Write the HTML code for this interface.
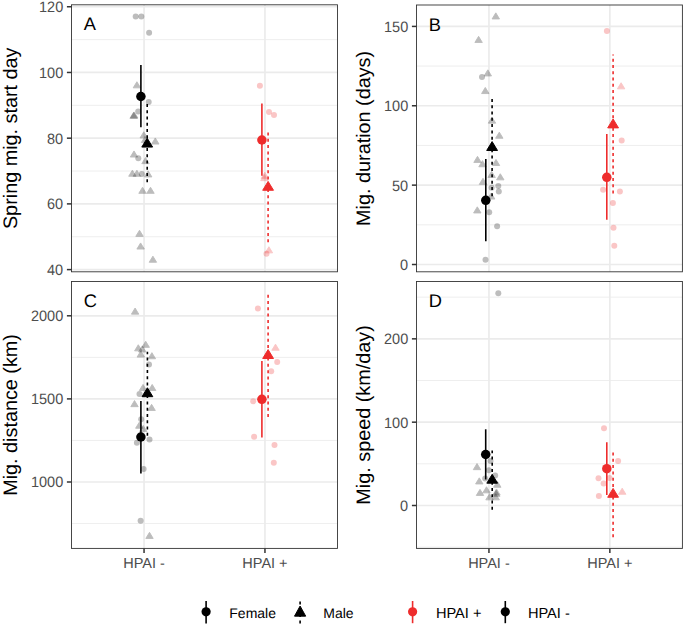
<!DOCTYPE html>
<html><head><meta charset="utf-8"><title>HPAI migration plots</title>
<style>html,body{margin:0;padding:0;background:#fff;}svg{display:block;}text{font-family:"Liberation Sans",sans-serif;text-rendering:geometricPrecision;}</style></head><body>
<svg width="685" height="626" viewBox="0 0 685 626">
<rect x="0" y="0" width="685" height="626" fill="#fff"/>
<g id="panelA">
<line x1="71.5" x2="337.5" y1="236.74" y2="236.74" stroke="#EBEBEB" stroke-width="0.85"/>
<line x1="71.5" x2="337.5" y1="171.03" y2="171.03" stroke="#EBEBEB" stroke-width="0.85"/>
<line x1="71.5" x2="337.5" y1="105.32" y2="105.32" stroke="#EBEBEB" stroke-width="0.85"/>
<line x1="71.5" x2="337.5" y1="39.61" y2="39.61" stroke="#EBEBEB" stroke-width="0.85"/>
<line x1="71.5" x2="337.5" y1="269.6" y2="269.6" stroke="#EBEBEB" stroke-width="1.7"/>
<line x1="71.5" x2="337.5" y1="203.89" y2="203.89" stroke="#EBEBEB" stroke-width="1.7"/>
<line x1="71.5" x2="337.5" y1="138.17" y2="138.17" stroke="#EBEBEB" stroke-width="1.7"/>
<line x1="71.5" x2="337.5" y1="72.46" y2="72.46" stroke="#EBEBEB" stroke-width="1.7"/>
<line x1="71.5" x2="337.5" y1="6.75" y2="6.75" stroke="#EBEBEB" stroke-width="1.7"/>
<line x1="144.05" x2="144.05" y1="4.8" y2="271.8" stroke="#EBEBEB" stroke-width="1.7"/>
<line x1="264.96" x2="264.96" y1="4.8" y2="271.8" stroke="#EBEBEB" stroke-width="1.7"/>
<circle cx="135.7" cy="16.6" r="3.0" fill="#000" fill-opacity="0.26"/>
<circle cx="141.3" cy="16.6" r="3.0" fill="#000" fill-opacity="0.26"/>
<circle cx="149.1" cy="32.8" r="3.0" fill="#000" fill-opacity="0.26"/>
<circle cx="148.7" cy="102.1" r="3.0" fill="#000" fill-opacity="0.26"/>
<circle cx="138.2" cy="111.4" r="3.0" fill="#000" fill-opacity="0.26"/>
<circle cx="138.3" cy="158.2" r="3.0" fill="#000" fill-opacity="0.26"/>
<circle cx="141.8" cy="174" r="3.0" fill="#000" fill-opacity="0.26"/>
<polygon points="136.9,81.75 140.6,87.85 133.2,87.85" fill="#000" stroke="#000" stroke-width="0.9" stroke-linejoin="round" opacity="0.26"/>
<polygon points="133.6,112.25 137.3,118.35 129.9,118.35" fill="#000" stroke="#000" stroke-width="0.9" stroke-linejoin="round" opacity="0.26"/>
<polygon points="134.2,111.95 137.9,118.05 130.5,118.05" fill="#000" stroke="#000" stroke-width="0.9" stroke-linejoin="round" opacity="0.26"/>
<polygon points="143.8,131.75 147.5,137.85 140.1,137.85" fill="#000" stroke="#000" stroke-width="0.9" stroke-linejoin="round" opacity="0.26"/>
<polygon points="155.3,137.95 159,144.05 151.6,144.05" fill="#000" stroke="#000" stroke-width="0.9" stroke-linejoin="round" opacity="0.26"/>
<polygon points="145,136.45 148.7,142.55 141.3,142.55" fill="#000" stroke="#000" stroke-width="0.9" stroke-linejoin="round" opacity="0.26"/>
<polygon points="134,150.95 137.7,157.05 130.3,157.05" fill="#000" stroke="#000" stroke-width="0.9" stroke-linejoin="round" opacity="0.26"/>
<polygon points="145.5,157.55 149.2,163.65 141.8,163.65" fill="#000" stroke="#000" stroke-width="0.9" stroke-linejoin="round" opacity="0.26"/>
<polygon points="132.4,170.15 136.1,176.25 128.7,176.25" fill="#000" stroke="#000" stroke-width="0.9" stroke-linejoin="round" opacity="0.26"/>
<polygon points="136.9,170.25 140.6,176.35 133.2,176.35" fill="#000" stroke="#000" stroke-width="0.9" stroke-linejoin="round" opacity="0.26"/>
<polygon points="148.2,170.85 151.9,176.95 144.5,176.95" fill="#000" stroke="#000" stroke-width="0.9" stroke-linejoin="round" opacity="0.26"/>
<polygon points="142.5,187.25 146.2,193.35 138.8,193.35" fill="#000" stroke="#000" stroke-width="0.9" stroke-linejoin="round" opacity="0.26"/>
<polygon points="150.5,187.25 154.2,193.35 146.8,193.35" fill="#000" stroke="#000" stroke-width="0.9" stroke-linejoin="round" opacity="0.26"/>
<polygon points="139.5,230.25 143.2,236.35 135.8,236.35" fill="#000" stroke="#000" stroke-width="0.9" stroke-linejoin="round" opacity="0.26"/>
<polygon points="140.6,242.95 144.3,249.05 136.9,249.05" fill="#000" stroke="#000" stroke-width="0.9" stroke-linejoin="round" opacity="0.26"/>
<polygon points="152.9,256.15 156.6,262.25 149.2,262.25" fill="#000" stroke="#000" stroke-width="0.9" stroke-linejoin="round" opacity="0.26"/>
<circle cx="259.9" cy="85.8" r="3.0" fill="#EE2C2C" fill-opacity="0.27"/>
<circle cx="269" cy="111.9" r="3.0" fill="#EE2C2C" fill-opacity="0.27"/>
<circle cx="274" cy="115.1" r="3.0" fill="#EE2C2C" fill-opacity="0.27"/>
<circle cx="266.5" cy="253.7" r="3.0" fill="#EE2C2C" fill-opacity="0.27"/>
<polygon points="264.8,172.25 268.5,178.35 261.1,178.35" fill="#EE2C2C" stroke="#EE2C2C" stroke-width="0.9" stroke-linejoin="round" opacity="0.27"/>
<polygon points="264.4,174.55 268.1,180.65 260.7,180.65" fill="#EE2C2C" stroke="#EE2C2C" stroke-width="0.9" stroke-linejoin="round" opacity="0.27"/>
<polygon points="268.9,246.75 272.6,252.85 265.2,252.85" fill="#EE2C2C" stroke="#EE2C2C" stroke-width="0.9" stroke-linejoin="round" opacity="0.27"/>
<line x1="140.9" x2="140.9" y1="127.2" y2="65.1" stroke="#000" stroke-width="1.6"/>
<circle cx="140.9" cy="96.5" r="4.75" fill="#000"/>
<line x1="147.2" x2="147.2" y1="182.3" y2="104.1" stroke="#000" stroke-width="1.6" stroke-dasharray="3.0 3.28"/>
<polygon points="147.2,138.18 152.6,147.07 141.8,147.07" fill="#000" stroke="#000" stroke-width="1.0" stroke-linejoin="round"/>
<line x1="261.9" x2="261.9" y1="175.8" y2="103.6" stroke="#EE2C2C" stroke-width="1.6"/>
<circle cx="261.9" cy="140" r="4.75" fill="#EE2C2C"/>
<line x1="268.1" x2="268.1" y1="242.3" y2="131.9" stroke="#EE2C2C" stroke-width="1.6" stroke-dasharray="3.0 3.28"/>
<polygon points="268.1,181.38 273.5,190.27 262.7,190.27" fill="#EE2C2C" stroke="#EE2C2C" stroke-width="1.0" stroke-linejoin="round"/>
<rect x="71.5" y="4.8" width="266" height="267" fill="none" stroke="#333" stroke-width="0.9"/>
<line x1="66.9" x2="71.5" y1="269.6" y2="269.6" stroke="#333" stroke-width="1.5"/>
<text transform="translate(63.2,275) scale(1,1.04)" text-anchor="end" font-size="14.5" fill="#4D4D4D">40</text>
<line x1="66.9" x2="71.5" y1="203.89" y2="203.89" stroke="#333" stroke-width="1.5"/>
<text transform="translate(63.2,209.29) scale(1,1.04)" text-anchor="end" font-size="14.5" fill="#4D4D4D">60</text>
<line x1="66.9" x2="71.5" y1="138.17" y2="138.17" stroke="#333" stroke-width="1.5"/>
<text transform="translate(63.2,143.57) scale(1,1.04)" text-anchor="end" font-size="14.5" fill="#4D4D4D">80</text>
<line x1="66.9" x2="71.5" y1="72.46" y2="72.46" stroke="#333" stroke-width="1.5"/>
<text transform="translate(63.2,77.86) scale(1,1.04)" text-anchor="end" font-size="14.5" fill="#4D4D4D">100</text>
<line x1="66.9" x2="71.5" y1="6.75" y2="6.75" stroke="#333" stroke-width="1.5"/>
<text transform="translate(63.2,12.15) scale(1,1.04)" text-anchor="end" font-size="14.5" fill="#4D4D4D">120</text>
<text transform="translate(17.4,138.3) rotate(-90) scale(1.0154,1)" x="0" y="0" text-anchor="middle" font-size="19.5" fill="#000">Spring mig. start day</text>
<text x="83.8" y="30.45" font-size="18.3" fill="#000">A</text>
</g>
<g id="panelB">
<line x1="416.5" x2="682.4" y1="224.82" y2="224.82" stroke="#EBEBEB" stroke-width="0.85"/>
<line x1="416.5" x2="682.4" y1="145.45" y2="145.45" stroke="#EBEBEB" stroke-width="0.85"/>
<line x1="416.5" x2="682.4" y1="66.09" y2="66.09" stroke="#EBEBEB" stroke-width="0.85"/>
<line x1="416.5" x2="682.4" y1="264.5" y2="264.5" stroke="#EBEBEB" stroke-width="1.7"/>
<line x1="416.5" x2="682.4" y1="185.13" y2="185.13" stroke="#EBEBEB" stroke-width="1.7"/>
<line x1="416.5" x2="682.4" y1="105.77" y2="105.77" stroke="#EBEBEB" stroke-width="1.7"/>
<line x1="416.5" x2="682.4" y1="26.41" y2="26.41" stroke="#EBEBEB" stroke-width="1.7"/>
<line x1="488.95" x2="488.95" y1="5" y2="271.8" stroke="#EBEBEB" stroke-width="1.7"/>
<line x1="609.85" x2="609.85" y1="5" y2="271.8" stroke="#EBEBEB" stroke-width="1.7"/>
<circle cx="482" cy="77.1" r="3.0" fill="#000" fill-opacity="0.26"/>
<circle cx="491.6" cy="187.8" r="3.0" fill="#000" fill-opacity="0.26"/>
<circle cx="498.3" cy="186.1" r="3.0" fill="#000" fill-opacity="0.26"/>
<circle cx="498.8" cy="191.6" r="3.0" fill="#000" fill-opacity="0.26"/>
<circle cx="489.2" cy="212.3" r="3.0" fill="#000" fill-opacity="0.26"/>
<circle cx="497.1" cy="226.3" r="3.0" fill="#000" fill-opacity="0.26"/>
<circle cx="485.5" cy="259.8" r="3.0" fill="#000" fill-opacity="0.26"/>
<polygon points="495.8,12.85 499.5,18.95 492.1,18.95" fill="#000" stroke="#000" stroke-width="0.9" stroke-linejoin="round" opacity="0.26"/>
<polygon points="478.6,36.35 482.3,42.45 474.9,42.45" fill="#000" stroke="#000" stroke-width="0.9" stroke-linejoin="round" opacity="0.26"/>
<polygon points="487.8,69.85 491.5,75.95 484.1,75.95" fill="#000" stroke="#000" stroke-width="0.9" stroke-linejoin="round" opacity="0.26"/>
<polygon points="485.3,87.45 489,93.55 481.6,93.55" fill="#000" stroke="#000" stroke-width="0.9" stroke-linejoin="round" opacity="0.26"/>
<polygon points="492,117.05 495.7,123.15 488.3,123.15" fill="#000" stroke="#000" stroke-width="0.9" stroke-linejoin="round" opacity="0.26"/>
<polygon points="499.3,132.15 503,138.25 495.6,138.25" fill="#000" stroke="#000" stroke-width="0.9" stroke-linejoin="round" opacity="0.26"/>
<polygon points="477.5,156.35 481.2,162.45 473.8,162.45" fill="#000" stroke="#000" stroke-width="0.9" stroke-linejoin="round" opacity="0.26"/>
<polygon points="482.5,160.65 486.2,166.75 478.8,166.75" fill="#000" stroke="#000" stroke-width="0.9" stroke-linejoin="round" opacity="0.26"/>
<polygon points="496,159.45 499.7,165.55 492.3,165.55" fill="#000" stroke="#000" stroke-width="0.9" stroke-linejoin="round" opacity="0.26"/>
<polygon points="491.6,171.35 495.3,177.45 487.9,177.45" fill="#000" stroke="#000" stroke-width="0.9" stroke-linejoin="round" opacity="0.26"/>
<polygon points="500.3,173.75 504,179.85 496.6,179.85" fill="#000" stroke="#000" stroke-width="0.9" stroke-linejoin="round" opacity="0.26"/>
<polygon points="483,178.25 486.7,184.35 479.3,184.35" fill="#000" stroke="#000" stroke-width="0.9" stroke-linejoin="round" opacity="0.26"/>
<polygon points="491.2,192.95 494.9,199.05 487.5,199.05" fill="#000" stroke="#000" stroke-width="0.9" stroke-linejoin="round" opacity="0.26"/>
<polygon points="477.3,206.85 481,212.95 473.6,212.95" fill="#000" stroke="#000" stroke-width="0.9" stroke-linejoin="round" opacity="0.26"/>
<circle cx="606.9" cy="31.1" r="3.0" fill="#EE2C2C" fill-opacity="0.27"/>
<circle cx="621.7" cy="140.6" r="3.0" fill="#EE2C2C" fill-opacity="0.27"/>
<circle cx="603.1" cy="189.8" r="3.0" fill="#EE2C2C" fill-opacity="0.27"/>
<circle cx="619.9" cy="191.4" r="3.0" fill="#EE2C2C" fill-opacity="0.27"/>
<circle cx="612.9" cy="202.9" r="3.0" fill="#EE2C2C" fill-opacity="0.27"/>
<circle cx="613.5" cy="227.8" r="3.0" fill="#EE2C2C" fill-opacity="0.27"/>
<circle cx="614.3" cy="245.7" r="3.0" fill="#EE2C2C" fill-opacity="0.27"/>
<polygon points="621.1,82.75 624.8,88.85 617.4,88.85" fill="#EE2C2C" stroke="#EE2C2C" stroke-width="0.9" stroke-linejoin="round" opacity="0.27"/>
<line x1="485.8" x2="485.8" y1="241.2" y2="159.1" stroke="#000" stroke-width="1.6"/>
<circle cx="485.8" cy="200.3" r="4.75" fill="#000"/>
<line x1="492.1" x2="492.1" y1="196.2" y2="98.4" stroke="#000" stroke-width="1.6" stroke-dasharray="3.0 3.28"/>
<polygon points="492.1,141.58 497.5,150.47 486.7,150.47" fill="#000" stroke="#000" stroke-width="1.0" stroke-linejoin="round"/>
<line x1="606.8" x2="606.8" y1="219.7" y2="134.1" stroke="#EE2C2C" stroke-width="1.6"/>
<circle cx="606.8" cy="177.3" r="4.75" fill="#EE2C2C"/>
<line x1="613.1" x2="613.1" y1="193.6" y2="54.5" stroke="#EE2C2C" stroke-width="1.6" stroke-dasharray="3.0 3.28"/>
<polygon points="613.1,118.97 618.5,127.88 607.7,127.88" fill="#EE2C2C" stroke="#EE2C2C" stroke-width="1.0" stroke-linejoin="round"/>
<rect x="416.5" y="5" width="265.9" height="266.8" fill="none" stroke="#333" stroke-width="0.9"/>
<line x1="411.9" x2="416.5" y1="264.5" y2="264.5" stroke="#333" stroke-width="1.5"/>
<text transform="translate(408.2,269.9) scale(1,1.04)" text-anchor="end" font-size="14.5" fill="#4D4D4D">0</text>
<line x1="411.9" x2="416.5" y1="185.13" y2="185.13" stroke="#333" stroke-width="1.5"/>
<text transform="translate(408.2,190.53) scale(1,1.04)" text-anchor="end" font-size="14.5" fill="#4D4D4D">50</text>
<line x1="411.9" x2="416.5" y1="105.77" y2="105.77" stroke="#333" stroke-width="1.5"/>
<text transform="translate(408.2,111.17) scale(1,1.04)" text-anchor="end" font-size="14.5" fill="#4D4D4D">100</text>
<line x1="411.9" x2="416.5" y1="26.41" y2="26.41" stroke="#333" stroke-width="1.5"/>
<text transform="translate(408.2,31.8) scale(1,1.04)" text-anchor="end" font-size="14.5" fill="#4D4D4D">150</text>
<text transform="translate(370.3,138.4) rotate(-90) scale(1.0154,1)" x="0" y="0" text-anchor="middle" font-size="19.5" fill="#000">Mig. duration (days)</text>
<text x="428.8" y="30.65" font-size="18.3" fill="#000">B</text>
</g>
<g id="panelC">
<line x1="71.5" x2="337.5" y1="523.55" y2="523.55" stroke="#EBEBEB" stroke-width="0.85"/>
<line x1="71.5" x2="337.5" y1="440.45" y2="440.45" stroke="#EBEBEB" stroke-width="0.85"/>
<line x1="71.5" x2="337.5" y1="357.35" y2="357.35" stroke="#EBEBEB" stroke-width="0.85"/>
<line x1="71.5" x2="337.5" y1="482" y2="482" stroke="#EBEBEB" stroke-width="1.7"/>
<line x1="71.5" x2="337.5" y1="398.9" y2="398.9" stroke="#EBEBEB" stroke-width="1.7"/>
<line x1="71.5" x2="337.5" y1="315.8" y2="315.8" stroke="#EBEBEB" stroke-width="1.7"/>
<line x1="144.05" x2="144.05" y1="281.5" y2="548.4" stroke="#EBEBEB" stroke-width="1.7"/>
<line x1="264.96" x2="264.96" y1="281.5" y2="548.4" stroke="#EBEBEB" stroke-width="1.7"/>
<circle cx="149" cy="364.4" r="3.0" fill="#000" fill-opacity="0.26"/>
<circle cx="139.5" cy="394" r="3.0" fill="#000" fill-opacity="0.26"/>
<circle cx="141.2" cy="419.3" r="3.0" fill="#000" fill-opacity="0.26"/>
<circle cx="149.5" cy="439.4" r="3.0" fill="#000" fill-opacity="0.26"/>
<circle cx="136.9" cy="442.7" r="3.0" fill="#000" fill-opacity="0.26"/>
<circle cx="143.6" cy="469.1" r="3.0" fill="#000" fill-opacity="0.26"/>
<circle cx="140.6" cy="520.7" r="3.0" fill="#000" fill-opacity="0.26"/>
<polygon points="135.1,308.05 138.8,314.15 131.4,314.15" fill="#000" stroke="#000" stroke-width="0.9" stroke-linejoin="round" opacity="0.26"/>
<polygon points="145.7,341.25 149.4,347.35 142,347.35" fill="#000" stroke="#000" stroke-width="0.9" stroke-linejoin="round" opacity="0.26"/>
<polygon points="138.3,344.75 142,350.85 134.6,350.85" fill="#000" stroke="#000" stroke-width="0.9" stroke-linejoin="round" opacity="0.26"/>
<polygon points="142.3,345.85 146,351.95 138.6,351.95" fill="#000" stroke="#000" stroke-width="0.9" stroke-linejoin="round" opacity="0.26"/>
<polygon points="140.8,350.95 144.5,357.05 137.1,357.05" fill="#000" stroke="#000" stroke-width="0.9" stroke-linejoin="round" opacity="0.26"/>
<polygon points="151.9,352.65 155.6,358.75 148.2,358.75" fill="#000" stroke="#000" stroke-width="0.9" stroke-linejoin="round" opacity="0.26"/>
<polygon points="143,384.45 146.7,390.55 139.3,390.55" fill="#000" stroke="#000" stroke-width="0.9" stroke-linejoin="round" opacity="0.26"/>
<polygon points="152.2,384.45 155.9,390.55 148.5,390.55" fill="#000" stroke="#000" stroke-width="0.9" stroke-linejoin="round" opacity="0.26"/>
<polygon points="134.5,400.55 138.2,406.65 130.8,406.65" fill="#000" stroke="#000" stroke-width="0.9" stroke-linejoin="round" opacity="0.26"/>
<polygon points="151.6,404.35 155.3,410.45 147.9,410.45" fill="#000" stroke="#000" stroke-width="0.9" stroke-linejoin="round" opacity="0.26"/>
<polygon points="139.3,422.15 143,428.25 135.6,428.25" fill="#000" stroke="#000" stroke-width="0.9" stroke-linejoin="round" opacity="0.26"/>
<polygon points="143.2,425.45 146.9,431.55 139.5,431.55" fill="#000" stroke="#000" stroke-width="0.9" stroke-linejoin="round" opacity="0.26"/>
<polygon points="149.5,532.35 153.2,538.45 145.8,538.45" fill="#000" stroke="#000" stroke-width="0.9" stroke-linejoin="round" opacity="0.26"/>
<circle cx="257.9" cy="308.5" r="3.0" fill="#EE2C2C" fill-opacity="0.27"/>
<circle cx="277.2" cy="362" r="3.0" fill="#EE2C2C" fill-opacity="0.27"/>
<circle cx="271.2" cy="371.2" r="3.0" fill="#EE2C2C" fill-opacity="0.27"/>
<circle cx="253.2" cy="401.3" r="3.0" fill="#EE2C2C" fill-opacity="0.27"/>
<circle cx="254.1" cy="436.7" r="3.0" fill="#EE2C2C" fill-opacity="0.27"/>
<circle cx="274.5" cy="445.1" r="3.0" fill="#EE2C2C" fill-opacity="0.27"/>
<circle cx="273.8" cy="462.8" r="3.0" fill="#EE2C2C" fill-opacity="0.27"/>
<polygon points="275.5,344.15 279.2,350.25 271.8,350.25" fill="#EE2C2C" stroke="#EE2C2C" stroke-width="0.9" stroke-linejoin="round" opacity="0.27"/>
<line x1="140.9" x2="140.9" y1="473.6" y2="401" stroke="#000" stroke-width="1.6"/>
<circle cx="140.9" cy="437" r="4.75" fill="#000"/>
<line x1="147.4" x2="147.4" y1="435.8" y2="351.8" stroke="#000" stroke-width="1.6" stroke-dasharray="3.0 3.28"/>
<polygon points="147.4,387.78 152.8,396.68 142,396.68" fill="#000" stroke="#000" stroke-width="1.0" stroke-linejoin="round"/>
<line x1="261.9" x2="261.9" y1="437.5" y2="360.9" stroke="#EE2C2C" stroke-width="1.6"/>
<circle cx="261.9" cy="399.3" r="4.75" fill="#EE2C2C"/>
<line x1="268.1" x2="268.1" y1="417.1" y2="294.1" stroke="#EE2C2C" stroke-width="1.6" stroke-dasharray="3.0 3.28"/>
<polygon points="268.1,349.58 273.5,358.48 262.7,358.48" fill="#EE2C2C" stroke="#EE2C2C" stroke-width="1.0" stroke-linejoin="round"/>
<rect x="71.5" y="281.5" width="266" height="266.9" fill="none" stroke="#333" stroke-width="0.9"/>
<line x1="66.9" x2="71.5" y1="482" y2="482" stroke="#333" stroke-width="1.5"/>
<text transform="translate(63.2,487.4) scale(1,1.04)" text-anchor="end" font-size="14.5" fill="#4D4D4D">1000</text>
<line x1="66.9" x2="71.5" y1="398.9" y2="398.9" stroke="#333" stroke-width="1.5"/>
<text transform="translate(63.2,404.3) scale(1,1.04)" text-anchor="end" font-size="14.5" fill="#4D4D4D">1500</text>
<line x1="66.9" x2="71.5" y1="315.8" y2="315.8" stroke="#333" stroke-width="1.5"/>
<text transform="translate(63.2,321.2) scale(1,1.04)" text-anchor="end" font-size="14.5" fill="#4D4D4D">2000</text>
<line x1="144.05" x2="144.05" y1="548.4" y2="553" stroke="#333" stroke-width="1.5"/>
<text x="144.05" y="568.4" text-anchor="middle" font-size="14.5" fill="#4D4D4D">HPAI -</text>
<line x1="264.96" x2="264.96" y1="548.4" y2="553" stroke="#333" stroke-width="1.5"/>
<text x="264.96" y="568.4" text-anchor="middle" font-size="14.5" fill="#4D4D4D">HPAI +</text>
<text transform="translate(17.4,414.95) rotate(-90) scale(1.0154,1)" x="0" y="0" text-anchor="middle" font-size="19.5" fill="#000">Mig. distance (km)</text>
<text x="83.8" y="307.15" font-size="18.3" fill="#000">C</text>
</g>
<g id="panelD">
<line x1="416.5" x2="682.4" y1="547.16" y2="547.16" stroke="#EBEBEB" stroke-width="0.85"/>
<line x1="416.5" x2="682.4" y1="463.83" y2="463.83" stroke="#EBEBEB" stroke-width="0.85"/>
<line x1="416.5" x2="682.4" y1="380.5" y2="380.5" stroke="#EBEBEB" stroke-width="0.85"/>
<line x1="416.5" x2="682.4" y1="297.17" y2="297.17" stroke="#EBEBEB" stroke-width="0.85"/>
<line x1="416.5" x2="682.4" y1="505.5" y2="505.5" stroke="#EBEBEB" stroke-width="1.7"/>
<line x1="416.5" x2="682.4" y1="422.17" y2="422.17" stroke="#EBEBEB" stroke-width="1.7"/>
<line x1="416.5" x2="682.4" y1="338.84" y2="338.84" stroke="#EBEBEB" stroke-width="1.7"/>
<line x1="488.95" x2="488.95" y1="281.5" y2="548.4" stroke="#EBEBEB" stroke-width="1.7"/>
<line x1="609.85" x2="609.85" y1="281.5" y2="548.4" stroke="#EBEBEB" stroke-width="1.7"/>
<circle cx="498.3" cy="293.2" r="3.0" fill="#000" fill-opacity="0.26"/>
<circle cx="490.5" cy="461" r="3.0" fill="#000" fill-opacity="0.26"/>
<circle cx="488.9" cy="470.3" r="3.0" fill="#000" fill-opacity="0.26"/>
<circle cx="495.2" cy="475.6" r="3.0" fill="#000" fill-opacity="0.26"/>
<circle cx="485.2" cy="478.4" r="3.0" fill="#000" fill-opacity="0.26"/>
<polygon points="477,463.55 480.7,469.65 473.3,469.65" fill="#000" stroke="#000" stroke-width="0.9" stroke-linejoin="round" opacity="0.26"/>
<polygon points="479.3,477.85 483,483.95 475.6,483.95" fill="#000" stroke="#000" stroke-width="0.9" stroke-linejoin="round" opacity="0.26"/>
<polygon points="480,489.35 483.7,495.45 476.3,495.45" fill="#000" stroke="#000" stroke-width="0.9" stroke-linejoin="round" opacity="0.26"/>
<polygon points="486.5,486.75 490.2,492.85 482.8,492.85" fill="#000" stroke="#000" stroke-width="0.9" stroke-linejoin="round" opacity="0.26"/>
<polygon points="497.3,481.15 501,487.25 493.6,487.25" fill="#000" stroke="#000" stroke-width="0.9" stroke-linejoin="round" opacity="0.26"/>
<polygon points="496.2,490.45 499.9,496.55 492.5,496.55" fill="#000" stroke="#000" stroke-width="0.9" stroke-linejoin="round" opacity="0.26"/>
<polygon points="495.7,493.75 499.4,499.85 492,499.85" fill="#000" stroke="#000" stroke-width="0.9" stroke-linejoin="round" opacity="0.26"/>
<polygon points="489.5,493.75 493.2,499.85 485.8,499.85" fill="#000" stroke="#000" stroke-width="0.9" stroke-linejoin="round" opacity="0.26"/>
<polygon points="496.5,488.95 500.2,495.05 492.8,495.05" fill="#000" stroke="#000" stroke-width="0.9" stroke-linejoin="round" opacity="0.26"/>
<circle cx="604" cy="428.2" r="3.0" fill="#EE2C2C" fill-opacity="0.27"/>
<circle cx="618.1" cy="461" r="3.0" fill="#EE2C2C" fill-opacity="0.27"/>
<circle cx="598.5" cy="478.3" r="3.0" fill="#EE2C2C" fill-opacity="0.27"/>
<circle cx="603.6" cy="483.4" r="3.0" fill="#EE2C2C" fill-opacity="0.27"/>
<circle cx="598.9" cy="496" r="3.0" fill="#EE2C2C" fill-opacity="0.27"/>
<circle cx="609.5" cy="478" r="3.0" fill="#EE2C2C" fill-opacity="0.27"/>
<polygon points="622.2,488.15 625.9,494.25 618.5,494.25" fill="#EE2C2C" stroke="#EE2C2C" stroke-width="0.9" stroke-linejoin="round" opacity="0.27"/>
<line x1="485.7" x2="485.7" y1="479.5" y2="429.3" stroke="#000" stroke-width="1.6"/>
<circle cx="485.7" cy="454.5" r="4.75" fill="#000"/>
<line x1="492.2" x2="492.2" y1="509.8" y2="450.4" stroke="#000" stroke-width="1.6" stroke-dasharray="3.0 3.28"/>
<polygon points="492.2,474.28 497.6,483.18 486.8,483.18" fill="#000" stroke="#000" stroke-width="1.0" stroke-linejoin="round"/>
<line x1="606.8" x2="606.8" y1="494.9" y2="442.2" stroke="#EE2C2C" stroke-width="1.6"/>
<circle cx="606.8" cy="468.7" r="4.75" fill="#EE2C2C"/>
<line x1="613.1" x2="613.1" y1="537.2" y2="452.1" stroke="#EE2C2C" stroke-width="1.6" stroke-dasharray="3.0 3.28"/>
<polygon points="613.1,488.38 618.5,497.28 607.7,497.28" fill="#EE2C2C" stroke="#EE2C2C" stroke-width="1.0" stroke-linejoin="round"/>
<rect x="416.5" y="281.5" width="265.9" height="266.9" fill="none" stroke="#333" stroke-width="0.9"/>
<line x1="411.9" x2="416.5" y1="505.5" y2="505.5" stroke="#333" stroke-width="1.5"/>
<text transform="translate(408.2,510.9) scale(1,1.04)" text-anchor="end" font-size="14.5" fill="#4D4D4D">0</text>
<line x1="411.9" x2="416.5" y1="422.17" y2="422.17" stroke="#333" stroke-width="1.5"/>
<text transform="translate(408.2,427.57) scale(1,1.04)" text-anchor="end" font-size="14.5" fill="#4D4D4D">100</text>
<line x1="411.9" x2="416.5" y1="338.84" y2="338.84" stroke="#333" stroke-width="1.5"/>
<text transform="translate(408.2,344.24) scale(1,1.04)" text-anchor="end" font-size="14.5" fill="#4D4D4D">200</text>
<line x1="488.95" x2="488.95" y1="548.4" y2="553" stroke="#333" stroke-width="1.5"/>
<text x="488.95" y="568.4" text-anchor="middle" font-size="14.5" fill="#4D4D4D">HPAI -</text>
<line x1="609.85" x2="609.85" y1="548.4" y2="553" stroke="#333" stroke-width="1.5"/>
<text x="609.85" y="568.4" text-anchor="middle" font-size="14.5" fill="#4D4D4D">HPAI +</text>
<text transform="translate(370.3,414.95) rotate(-90) scale(1.0154,1)" x="0" y="0" text-anchor="middle" font-size="19.5" fill="#000">Mig. speed (km/day)</text>
<text x="428.8" y="307.15" font-size="18.3" fill="#000">D</text>
</g>
<g id="legend">
<line x1="206.1" x2="206.1" y1="601" y2="623.4" stroke="#000" stroke-width="1.6"/>
<circle cx="206.1" cy="611.8" r="4.6" fill="#000"/>
<text x="229.3" y="617.6" font-size="14.0" fill="#000">Female</text>
<line x1="300.1" x2="300.1" y1="623.4" y2="601.2" stroke="#000" stroke-width="1.6" stroke-dasharray="3.0 3.28"/>
<polygon points="300.1,606.05 305.7,616.15 294.5,616.15" fill="#000" stroke="#000" stroke-width="1" stroke-linejoin="round"/>
<text x="323.3" y="617.6" font-size="14.0" fill="#000">Male</text>
<line x1="412.6" x2="412.6" y1="601" y2="623.2" stroke="#EE2C2C" stroke-width="1.6"/>
<circle cx="412.6" cy="611.8" r="4.6" fill="#EE2C2C"/>
<text x="435.9" y="617.7" font-size="14.6" fill="#000">HPAI +</text>
<line x1="505.3" x2="505.3" y1="601" y2="623.2" stroke="#000" stroke-width="1.6"/>
<circle cx="505.3" cy="611.8" r="4.6" fill="#000"/>
<text x="527.9" y="617.7" font-size="14.6" fill="#000">HPAI -</text>
</g>
</svg></body></html>
